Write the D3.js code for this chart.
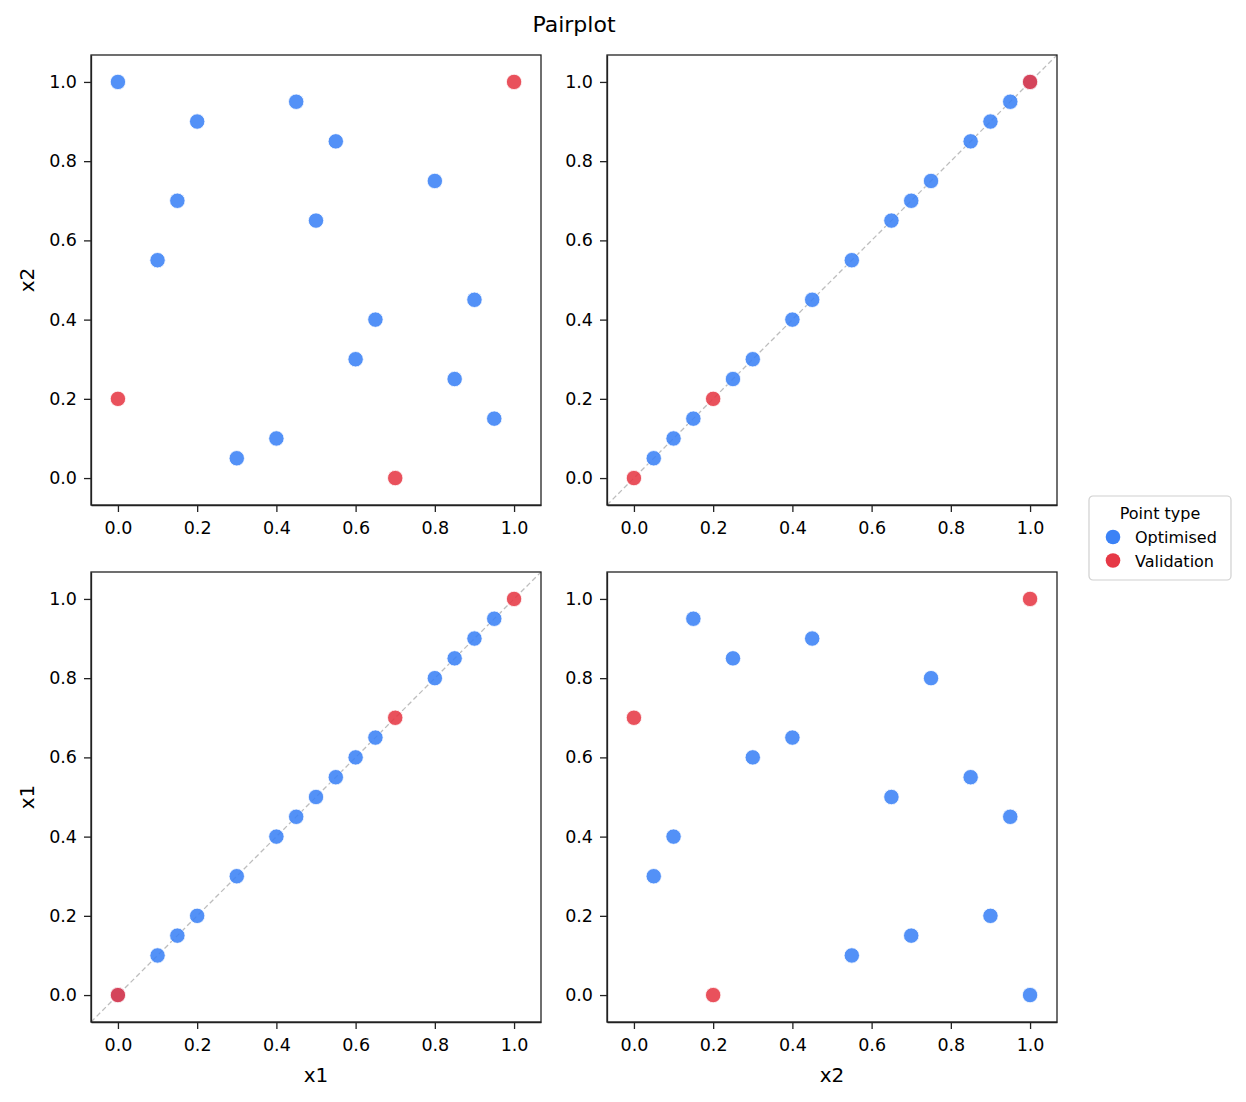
<!DOCTYPE html>
<html>
<head>
  <meta charset="utf-8">
  <style>
    body { margin: 0; background: #ffffff; }
    text { font-family: "DejaVu Sans", sans-serif; fill: #000; }
    .tick text { font-size: 17.5px; }
    .axis path, .axis line { stroke: #222; stroke-width: 1.3px; }
  </style>
</head>
<body>
  <div id="chart"></div>
  <script src="https://cdn.jsdelivr.net/npm/d3@7"></script>
  <script>
    // variables shown on the grid
    var varNames = ['x1', 'x2'];

    // optimised points
    var optX1 = [0.0, 0.2, 0.45, 0.55, 0.15, 0.1, 0.5, 0.8, 0.65, 0.9, 0.6, 0.85, 0.95, 0.4, 0.3];
    var optX2 = [1.0, 0.9, 0.95, 0.85, 0.7, 0.55, 0.65, 0.75, 0.4, 0.45, 0.3, 0.25, 0.15, 0.1, 0.05];

    // validation points
    var valX1 = [1.0, 0.0, 0.7];
    var valX2 = [1.0, 0.2, 0.0];

    var tickValues = [0.0, 0.2, 0.4, 0.6, 0.8, 1.0];
    var groups = ['Optimised', 'Validation'];
    var colors = ['#3b82f6', '#e63946'];

    var width = 1246;
    var height = 1102;
    var panelSize = 450;
    var colX = [91, 607];
    var rowY = [55, 572];
    // rows: y variable, cols: x variable
    var rowVars = ['x2', 'x1'];
    var colVars = ['x1', 'x2'];

    var series = {
      Optimised: { x1: optX1, x2: optX2 },
      Validation: { x1: valX1, x2: valX2 }
    };

    var svg = d3.select('#chart').append('svg')
      .attr('width', width)
      .attr('height', height);

    svg.append('text')
      .attr('x', (colX[0] + colX[1] + panelSize) / 2)
      .attr('y', 32)
      .attr('text-anchor', 'middle')
      .style('font-size', '22px')
      .text('Pairplot');

    rowVars.forEach(function (yVar, r) {
      colVars.forEach(function (xVar, c) {
        var g = svg.append('g')
          .attr('transform', 'translate(' + colX[c] + ',' + rowY[r] + ')');

        var x = d3.scaleLinear().domain([-0.068, 1.068]).range([0, panelSize]);
        var y = d3.scaleLinear().domain([-0.068, 1.068]).range([panelSize, 0]);

        if (xVar === yVar) {
          g.append('line')
            .attr('x1', x(-0.068)).attr('y1', y(-0.068))
            .attr('x2', x(1.068)).attr('y2', y(1.068))
            .style('stroke', '#bdbdbd')
            .style('stroke-width', 1.3)
            .style('stroke-dasharray', '5,3');
        }

        groups.forEach(function (name, gi) {
          var s = series[name];
          var pts = s[xVar].map(function (v, i) { return [v, s[yVar][i]]; });
          g.selectAll('circle.p' + gi)
            .data(pts)
            .enter()
            .append('circle')
            .attr('class', 'p' + gi)
            .attr('cx', function (d) { return x(d[0]); })
            .attr('cy', function (d) { return y(d[1]); })
            .attr('r', 7.7)
            .style('fill', colors[gi])
            .style('fill-opacity', 0.88)
            .style('stroke', '#ffffff')
            .style('stroke-width', 0.8);
        });

        g.append('g')
          .attr('class', 'axis')
          .attr('transform', 'translate(0,' + panelSize + ')')
          .call(d3.axisBottom(x).tickValues(tickValues).tickFormat(d3.format('.1f')).tickSize(7).tickSizeOuter(0).tickPadding(10));

        g.append('g')
          .attr('class', 'axis')
          .call(d3.axisLeft(y).tickValues(tickValues).tickFormat(d3.format('.1f')).tickSize(7).tickSizeOuter(0).tickPadding(7));

        // frame
        g.append('rect')
          .attr('width', panelSize)
          .attr('height', panelSize)
          .style('fill', 'none')
          .style('stroke', '#222')
          .style('stroke-width', 1.3);

        if (c === 0) {
          g.append('text')
            .attr('transform', 'translate(-57,' + panelSize / 2 + ') rotate(-90)')
            .attr('text-anchor', 'middle')
            .style('font-size', '20px')
            .text(yVar);
        }
        if (r === 1) {
          g.append('text')
            .attr('x', panelSize / 2)
            .attr('y', panelSize + 60)
            .attr('text-anchor', 'middle')
            .style('font-size', '20px')
            .text(xVar);
        }
      });
    });

    // legend
    var legend = svg.append('g').attr('transform', 'translate(1089,496)');
    legend.append('rect')
      .attr('width', 142)
      .attr('height', 84)
      .attr('rx', 4)
      .style('fill', '#fff')
      .style('stroke', '#d0d0d0')
      .style('stroke-width', 1.2);
    legend.append('text')
      .attr('x', 71)
      .attr('y', 23)
      .attr('text-anchor', 'middle')
      .style('font-size', '16px')
      .text('Point type');
    groups.forEach(function (name, i) {
      legend.append('circle')
        .attr('cx', 24)
        .attr('cy', 41 + i * 23.5)
        .attr('r', 7.3)
        .style('fill', colors[i]);
      legend.append('text')
        .attr('x', 46)
        .attr('y', 47 + i * 23.5)
        .style('font-size', '16px')
        .text(name);
    });
  </script>
</body>
</html>
